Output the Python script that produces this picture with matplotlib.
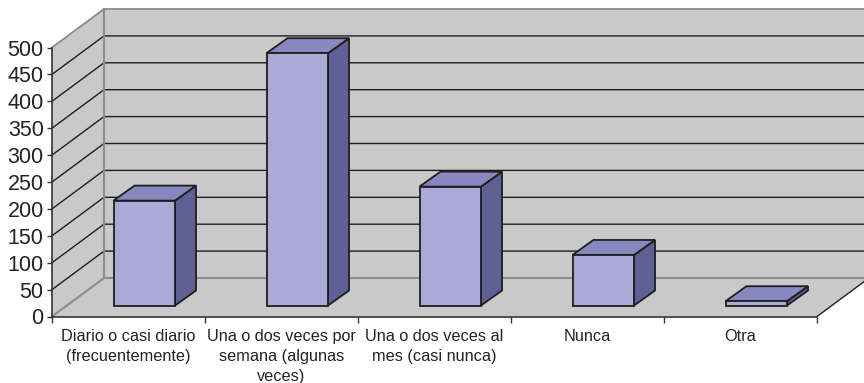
import matplotlib
matplotlib.use("Agg")
import matplotlib.pyplot as plt
from matplotlib.patches import Polygon

plt.rcParams['font.family'] = ['Liberation Sans', 'DejaVu Sans']

categories = ["Diario o casi diario\n(frecuentemente)",
              "Una o dos veces por\nsemana (algunas\nveces)",
              "Una o dos veces al\nmes (casi nunca)",
              "Nunca",
              "Otra"]
values = [195, 469, 221, 94, 8]
y_ticks = list(range(0, 501, 50))

W, H = 864, 383
L, R, T, B = 52, 817, 47.5, 316.5
fig = plt.figure(figsize=(W / 100, H / 100), dpi=100, facecolor='white')
ax = fig.add_axes([L / W, 1 - B / H, (R - L) / W, (B - T) / H])
ax.set_xlim(0, 5)
ax.set_ylim(0, 500)
ax.patch.set_visible(False)

# depth of the pseudo-3D box, in data units
DX = 52 / 153
DY = 38.5 / 0.538
WALL = '#C9C9C9'
EDGE = '#8C8C8C'
GRID = '#1E1E1E'
nc = len(categories)


def poly(pts, fc, ec='none', lw=0, z=1):
    ax.add_patch(Polygon(pts, closed=True, fc=fc, ec=ec, lw=lw, zorder=z,
                         clip_on=False, joinstyle='miter'))


# walls and floor
poly([(0, 0), (DX, DY), (DX, 500 + DY), (0, 500)], WALL)
poly([(DX, DY), (nc + DX, DY), (nc + DX, 500 + DY), (DX, 500 + DY)], WALL)
poly([(0, 0), (nc, 0), (nc + DX, DY), (DX, DY)], WALL)

for v in y_ticks[1:-1]:
    ax.plot([0, DX, nc + DX], [v, v + DY, v + DY], color=GRID, lw=1.0,
            zorder=2, clip_on=False)
ax.plot([0, DX, nc + DX], [500, 500 + DY, 500 + DY], color=EDGE, lw=1.3, zorder=2, clip_on=False)
ax.plot([0, DX, nc + DX], [0, DY, DY], color=EDGE, lw=1.5, zorder=2, clip_on=False)
ax.plot([DX, DX], [DY, 500 + DY], color=EDGE, lw=1.5, zorder=2, clip_on=False)
ax.plot([nc, nc + DX], [0, DY], color=GRID, lw=1.0, zorder=2, clip_on=False)

# bars: front face through ax.bar, side and top as offset polygons
BW = 0.402
OFF_X = 0.103
OFF_Y = 20.4
DBX = 21 / 153
DBY = 15 / 0.538
FRONT, TOP, SIDE = '#ABA9D5', '#8888C0', '#5F6095'
for i, v in enumerate(values):
    x0 = i + 0.5 + OFF_X - BW / 2
    x1 = x0 + BW
    y0 = OFF_Y
    y1 = OFF_Y + v
    poly([(x1, y0), (x1 + DBX, y0 + DBY), (x1 + DBX, y1 + DBY), (x1, y1)],
         SIDE, GRID, 1.3, 3)
    poly([(x0, y1), (x1, y1), (x1 + DBX, y1 + DBY), (x0 + DBX, y1 + DBY)],
         TOP, GRID, 1.3, 3)
ax.bar([i + 0.5 + OFF_X for i in range(nc)], values, width=BW, bottom=OFF_Y,
       color=FRONT, edgecolor=GRID, linewidth=1.3, zorder=4, clip_on=False)

# axes
for s in ('top', 'right'):
    ax.spines[s].set_visible(False)
for s in ('left', 'bottom'):
    ax.spines[s].set_color('#333333')
    ax.spines[s].set_linewidth(1.2)
    ax.spines[s].set_zorder(5)
ax.set_yticks(y_ticks)
ax.tick_params(axis='y', labelsize=15.5, length=3.5, width=1, color='#333333',
               labelcolor='#222222', pad=2.5)
ax.set_xticks(range(nc + 1))
ax.set_xticklabels([])
ax.set_xticks([i + 0.5 for i in range(nc)], minor=True)
ax.set_xticklabels(categories, minor=True, fontsize=11.7, color='#222222',
                   linespacing=1.4)
ax.tick_params(axis='x', which='major', length=4, width=1, color='#333333')
ax.tick_params(axis='x', which='minor', length=0, pad=9)

fig.savefig('out.png', dpi=100, facecolor='white')
